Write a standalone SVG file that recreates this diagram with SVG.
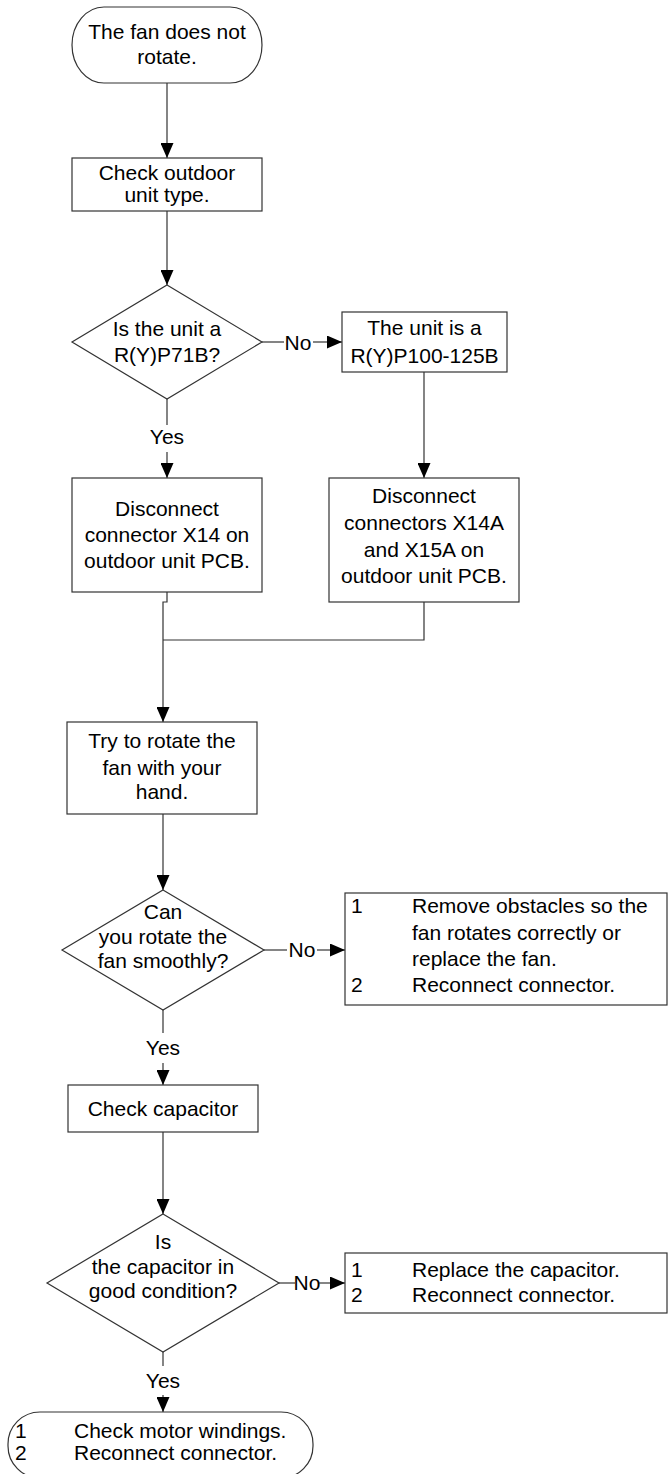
<svg xmlns="http://www.w3.org/2000/svg" width="668" height="1474" viewBox="0 0 668 1474">
<defs>
<marker id="ah" viewBox="0 0 15 13" refX="15" refY="6.5" markerWidth="15" markerHeight="13" markerUnits="userSpaceOnUse" orient="auto">
<path d="M0,0 L15,6.5 L0,13 z" fill="#000"/>
</marker>
<style>
.s{fill:#fff;stroke:#333;stroke-width:1.2}
.c{fill:none;stroke:#333;stroke-width:1.2}
.a{marker-end:url(#ah)}
text{font-family:"Liberation Sans",Arial,sans-serif;font-size:21px;fill:#000}
.m{text-anchor:middle}
</style>
</defs>
<rect width="668" height="1474" fill="#fff"/>
<g id="connectors">
<path class="c a" d="M167,83 V158"/>
<path class="c a" d="M167,211 V285"/>
<path class="c" d="M262,342 H284"/>
<path class="c a" d="M313,342 H342"/>
<text class="m" x="298" y="350">No</text>
<path class="c a" d="M424,372 V478"/>
<path class="c" d="M167,399 V425"/>
<text class="m" x="167" y="444">Yes</text>
<path class="c a" d="M167,452 V478"/>
<path class="c" d="M167,592 V602 H163 V640"/>
<path class="c" d="M424,602 V640 H163"/>
<path class="c a" d="M163,640 V722"/>
<path class="c a" d="M163,814 V890"/>
<path class="c" d="M264,950 H287"/>
<text class="m" x="302" y="957">No</text>
<path class="c a" d="M317,950 H345"/>
<path class="c" d="M163,1010 V1033"/>
<text class="m" x="163" y="1055">Yes</text>
<path class="c a" d="M163,1063 V1085"/>
<path class="c a" d="M163,1132 V1214"/>
<path class="c" d="M279,1283 H295"/>
<text class="m" x="307" y="1290">No</text>
<path class="c a" d="M319,1283 H345"/>
<path class="c" d="M163,1352 V1366"/>
<text class="m" x="163" y="1388">Yes</text>
<path class="c a" d="M163,1395 V1412"/>
</g>
<g id="start">
<rect class="s" x="72" y="7" width="190" height="76" rx="32" ry="38"/>
<text class="m" x="167" y="39">The fan does not</text>
<text class="m" x="167" y="64">rotate.</text>
</g>
<g id="check-type">
<rect class="s" x="72" y="158" width="190" height="53"/>
<text class="m" x="167" y="180">Check outdoor</text>
<text class="m" x="167" y="202">unit type.</text>
</g>
<g id="is-71b">
<polygon class="s" points="167,285 262,342 167,399 72,342"/>
<text class="m" x="167" y="336">Is the unit a</text>
<text class="m" x="167" y="362">R(Y)P71B?</text>
</g>
<g id="unit-100-125">
<rect class="s" x="342" y="312" width="165" height="60"/>
<text class="m" x="424.5" y="335">The unit is a</text>
<text class="m" x="424.5" y="363">R(Y)P100-125B</text>
</g>
<g id="disconnect-x14">
<rect class="s" x="72" y="478" width="190" height="114"/>
<text class="m" x="167" y="516">Disconnect</text>
<text class="m" x="167" y="542">connector X14 on</text>
<text class="m" x="167" y="568">outdoor unit PCB.</text>
</g>
<g id="disconnect-x14a">
<rect class="s" x="329" y="478" width="190" height="124"/>
<text class="m" x="424" y="503">Disconnect</text>
<text class="m" x="424" y="530">connectors X14A</text>
<text class="m" x="424" y="557">and X15A on</text>
<text class="m" x="424" y="583">outdoor unit PCB.</text>
</g>
<g id="try-rotate">
<rect class="s" x="67" y="722" width="190" height="92"/>
<text class="m" x="162" y="748">Try to rotate the</text>
<text class="m" x="162" y="775">fan with your</text>
<text class="m" x="162" y="799">hand.</text>
</g>
<g id="can-rotate">
<polygon class="s" points="163,890 264,950 163,1010 62,950"/>
<text class="m" x="163" y="919">Can</text>
<text class="m" x="163" y="944">you rotate the</text>
<text class="m" x="163" y="968">fan smoothly?</text>
</g>
<g id="remove-obstacles">
<rect class="s" x="345" y="893" width="322" height="112"/>
<text x="351" y="913">1</text>
<text x="412" y="913">Remove obstacles so the</text>
<text x="412" y="940">fan rotates correctly or</text>
<text x="412" y="966">replace the fan.</text>
<text x="351" y="992">2</text>
<text x="412" y="992">Reconnect connector.</text>
</g>
<g id="check-capacitor">
<rect class="s" x="68" y="1085" width="190" height="47"/>
<text class="m" x="163" y="1116">Check capacitor</text>
</g>
<g id="capacitor-ok">
<polygon class="s" points="163,1214 279,1283 163,1352 47,1283"/>
<text class="m" x="163" y="1249">Is</text>
<text class="m" x="163" y="1274">the capacitor in</text>
<text class="m" x="163" y="1298">good condition?</text>
</g>
<g id="replace-capacitor">
<rect class="s" x="345" y="1253" width="322" height="60"/>
<text x="351" y="1277">1</text>
<text x="412" y="1277">Replace the capacitor.</text>
<text x="351" y="1302">2</text>
<text x="412" y="1302">Reconnect connector.</text>
</g>
<g id="end">
<rect class="s" x="8" y="1412" width="305" height="66" rx="32" ry="32"/>
<text x="15" y="1438">1</text>
<text x="74" y="1438">Check motor windings.</text>
<text x="15" y="1460">2</text>
<text x="74" y="1460">Reconnect connector.</text>
</g>
</svg>
